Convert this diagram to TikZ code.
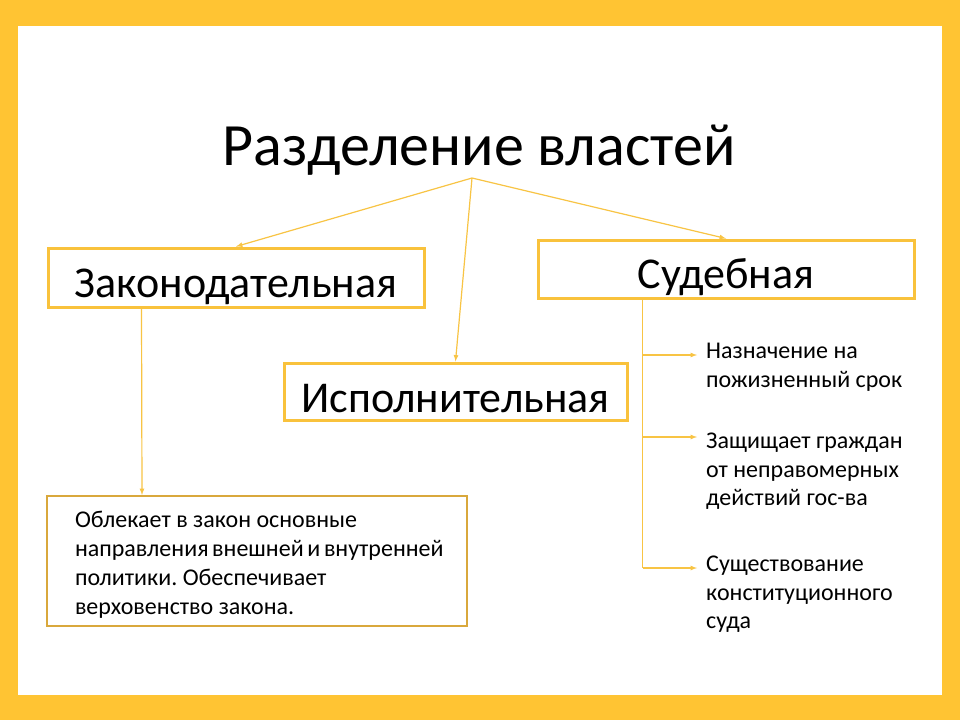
\documentclass[tikz,border=0pt]{standalone}
\usepackage{fontspec}
\setmainfont{Carlito}
\usepackage{tikz}
\usetikzlibrary{arrows,positioning,calc}
\tikzset{>=latex}
\frenchspacing
\definecolor{frameyellow}{HTML}{FFC433}
\definecolor{boxyellow}{HTML}{F9C23C}
\definecolor{boxgold}{HTML}{D9A83C}
\definecolor{lineyellow}{HTML}{F8C444}
\tikzset{
  bigbox/.style={draw=boxyellow, line width=3pt, inner xsep=0pt, inner ysep=0pt,
    font=\fontsize{44}{50}\selectfont},
  smalltext/.style={align=flush left, inner sep=0pt, anchor=north west,
    font=\fontsize{24}{28.5}\selectfont},
  conn/.style={->, color=lineyellow, line width=1.2pt}
}

\begin{document}
\begin{tikzpicture}[x=1pt,y=-1pt]
    \useasboundingbox (0,0) rectangle (960,720);
    \fill[frameyellow] (0,0) rectangle (960,720);
    \fill[white] (18,26) rectangle (942,695);

    \node [anchor=base, inner sep=0pt] (title) at (479,165) {\fontsize{60}{66}\selectfont Разделение властей};
    \coordinate (split) at (472,178);

    \node [bigbox, minimum width=376pt, text height=49pt, text depth=10pt] (zak) at (236,277.5) {Законодательная};
    \node [bigbox, minimum width=376pt, text height=48pt, text depth=10pt] (sud) at (726,269) {Судебная};
    \node [bigbox, minimum width=343pt, text height=49pt, text depth=8pt] (isp) at (455.5,391.5) {Исполнительная};

    \node [draw=boxgold, line width=2pt, minimum height=130pt, text width=364pt, inner xsep=28pt,
      align=flush left, font=\fontsize{24}{29}\selectfont] (obl) at (257,561)
      {\rule{0pt}{24pt}Облекает в закон основные\\направления~внешней~и~внутренней\\политики. Обеспечивает\\верховенство закона.};

    \node [smalltext] (t1) at (706,343) {Назначение на\\пожизненный срок};
    \node [smalltext] (t2) at (706,433) {Защищает граждан\\от неправомерных\\действий гос-ва};
    \node [smalltext] (t3) at (706,556) {Существование\\конституционного\\суда};

    \coordinate (a1) at (697,355);
    \coordinate (a2) at (697,437);
    \coordinate (a3) at (697,568);
    \coordinate (trunk) at ($(sud.south west)+(106,0)$);

    \begin{scope}[line width=1.2pt]
    \draw[conn] (split) to (zak.north);
    \draw[conn] (split) to (isp.north);
    \draw[conn] (split) to (sud.north);
    \draw[conn] ($(zak.south west)+(95,0)$) to ($(obl.north west)+(96,0)$);
    \draw[color=lineyellow] (trunk) to (trunk |- a3);
    \draw[conn] (trunk |- a1) to (a1);
    \draw[conn] (trunk |- a2) to (a2);
    \draw[conn] (trunk |- a3) to (a3);
    \end{scope}

\end{tikzpicture}
\end{document}
